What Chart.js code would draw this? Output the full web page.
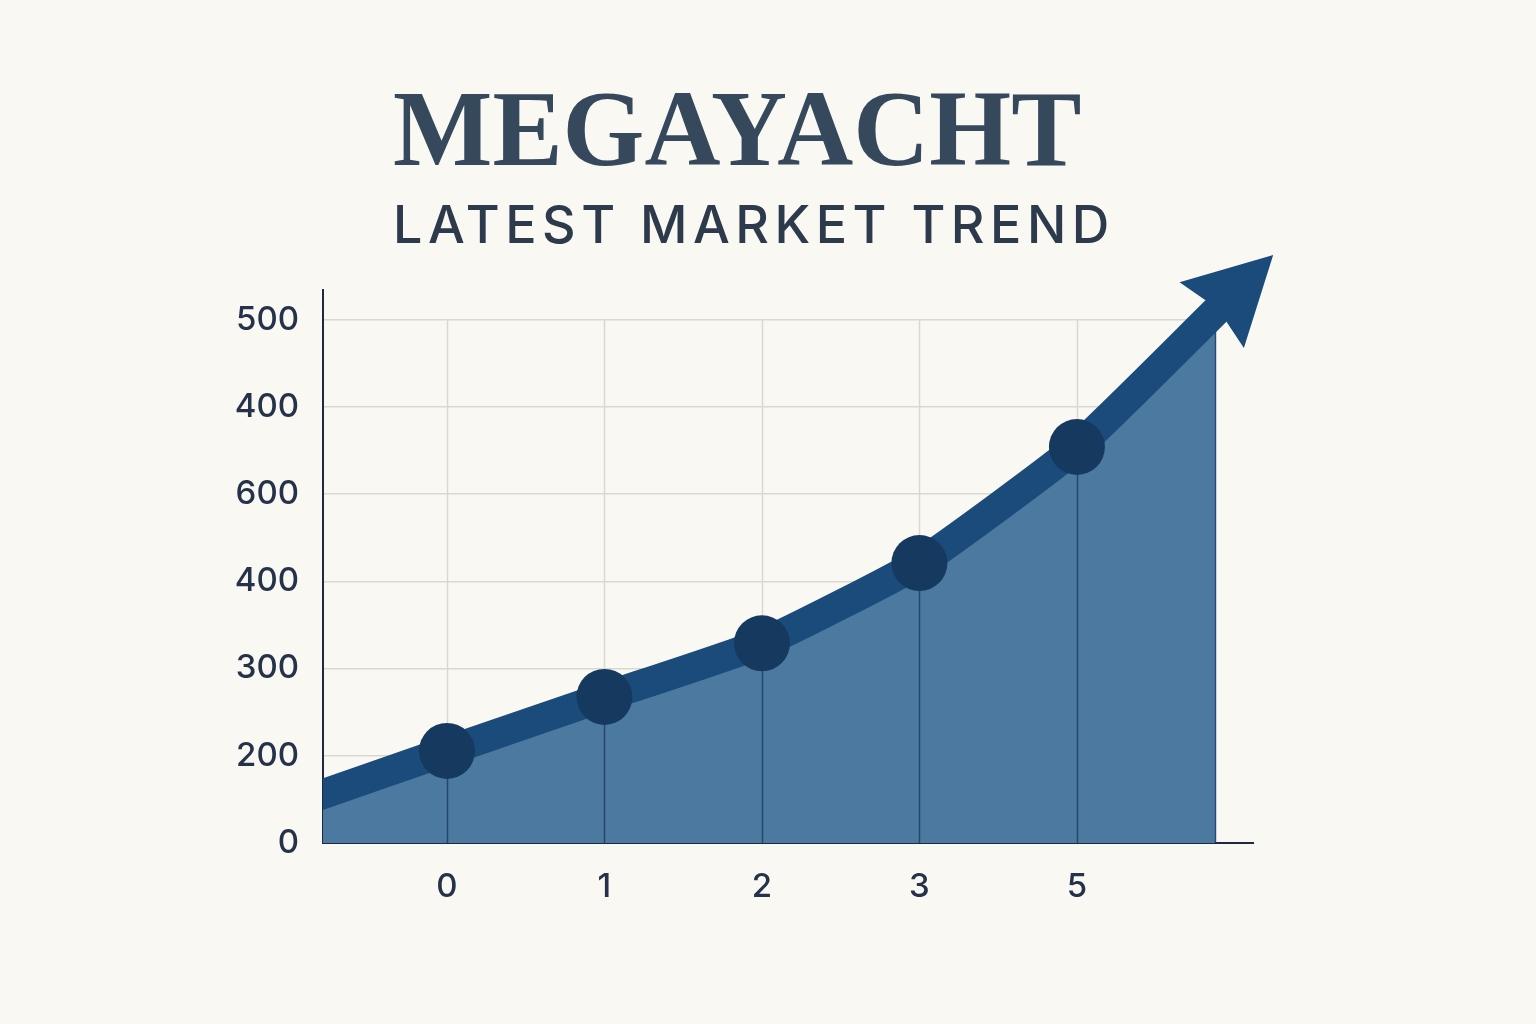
<!DOCTYPE html>
<html>
<head>
<meta charset="utf-8">
<title>Megayacht - Latest Market Trend</title>
<script src="https://cdn.jsdelivr.net/npm/chart.js@4.4.1/dist/chart.umd.min.js"></script>
<style>
  html, body { margin: 0; padding: 0; background: #faf8f3; }
  #wrap { position: relative; width: 1536px; height: 1024px; overflow: hidden; }
  #title {
    position: absolute; left: 393px; top: 75px; margin: 0;
    font-family: "Liberation Serif", serif; font-weight: bold; font-size: 108px;
    line-height: 1; color: #36485c; white-space: nowrap;
    transform: scaleX(0.975); transform-origin: left top;
  }
  #subtitle {
    position: absolute; left: 393px; top: 199px; margin: 0;
    font-family: Inter, "Liberation Sans", sans-serif; font-weight: 500; font-size: 52px;
    line-height: 1; letter-spacing: 5.5px; color: #2c3a4c; white-space: nowrap;
  }
  #chartBox { position: absolute; left: 0; top: 0; width: 1536px; height: 1024px; }
</style>
</head>
<body>
<div id="wrap">
  <div id="title">MEGAYACHT</div>
  <div id="subtitle">LATEST MARKET TREND</div>
  <div id="chartBox"><canvas id="myChart"></canvas></div>
</div>
<script>
// categorias do eixo X e rótulos do eixo Y (como aparecem na imagem)
const categories = ['0', '1', '2', '3', '5'];
const yTickLabels = ['0', '200', '300', '400', '600', '400', '500'];

// valores em "passos" da grade do eixo Y
const markerValues = [1.055, 1.675, 2.29, 3.21, 4.54];

// curva da tendência: começa antes da borda esquerda e termina na base da seta
const trendX = [-0.9, 0, 1, 2, 3, 4, 4.883];
const trendY = [0.49, 1.055, 1.675, 2.29, 3.21, 4.54, 6.1];

const lineColor = '#1b4b7b';
const areaColor = '#4c79a0';
const dotColor = '#163a5f';
const axisColor = '#1d2b40';

const trendPoints = trendX.map((x, i) => ({ x: x, y: trendY[i] }));
const markerPoints = markerValues.map((v, i) => ({ x: i, y: v }));

const trendPlugin = {
    id: 'trendExtras',
    beforeDatasetsDraw(chart) {
        const xs = chart.scales.x, ys = chart.scales.y, c = chart.ctx;
        c.save();
        c.strokeStyle = '#d9d8d3';
        c.lineWidth = 1.5;
        categories.forEach((_, i) => {
            const px = Math.round(xs.getPixelForValue(i)) + 0.5;
            c.beginPath();
            c.moveTo(px, ys.getPixelForValue(yTickLabels.length - 1));
            c.lineTo(px, ys.getPixelForValue(0));
            c.stroke();
        });
        c.restore();
    },
    afterDatasetDraw(chart, args) {
        if (args.index !== 2) return;
        const xs = chart.scales.x, ys = chart.scales.y, c = chart.ctx;
        c.save();
        c.strokeStyle = 'rgba(25,55,90,0.75)';
        c.lineWidth = 1.5;
        categories.forEach((_, i) => {
            const px = Math.round(xs.getPixelForValue(i)) + 0.5;
            c.beginPath();
            c.moveTo(px, ys.getPixelForValue(0));
            c.lineTo(px, ys.getPixelForValue(markerValues[i]));
            c.stroke();
        });
        // borda direita da área
        const rx = xs.getPixelForValue(trendX[trendX.length - 1]) - 0.5;
        c.strokeStyle = 'rgba(30,65,105,0.8)';
        c.beginPath();
        c.moveTo(rx, ys.getPixelForValue(0));
        c.lineTo(rx, ys.getPixelForValue(trendY[trendY.length - 1]));
        c.stroke();
        c.restore();
    },
    afterDatasetsDraw(chart) {
        const xs = chart.scales.x, ys = chart.scales.y, c = chart.ctx;
        const area = chart.chartArea;
        // eixo X continua um pouco depois da área
        c.save();
        c.strokeStyle = axisColor;
        c.lineWidth = 2;
        c.beginPath();
        c.moveTo(area.right - 1, area.bottom);
        c.lineTo(area.right + 38, area.bottom);
        c.stroke();
        c.restore();

        // ponta da seta no fim da curva
        const n = trendX.length;
        const ex = xs.getPixelForValue(trendX[n - 1]), ey = ys.getPixelForValue(trendY[n - 1]);
        const bx = xs.getPixelForValue(trendX[n - 2]), by = ys.getPixelForValue(trendY[n - 2]);
        let dx = ex - bx, dy = ey - by;
        const len = Math.sqrt(dx * dx + dy * dy);
        dx /= len; dy /= len;
        const nx = -dy, ny = dx;
        const headLen = 80, half = 46, back = 6;
        c.save();
        c.fillStyle = lineColor;
        c.beginPath();
        c.moveTo(ex + dx * headLen, ey + dy * headLen);
        c.lineTo(ex + nx * half - dx * back, ey + ny * half - dy * back);
        c.lineTo(ex + nx * 15, ey + ny * 15);
        c.lineTo(ex - dx * 8, ey - dy * 8);
        c.lineTo(ex - nx * 15, ey - ny * 15);
        c.lineTo(ex - nx * half - dx * back, ey - ny * half - dy * back);
        c.closePath();
        c.fill();
        c.restore();
    }
};

const ctx = document.getElementById('myChart').getContext('2d');
const myChart = new Chart(ctx, {
    type: 'line',
    data: {
        datasets: [
            {
                // marcadores
                data: markerPoints,
                showLine: false,
                pointRadius: 28,
                pointHoverRadius: 28,
                pointBackgroundColor: dotColor,
                pointBorderWidth: 0,
                clip: false
            },
            {
                // linha grossa
                data: trendPoints,
                borderColor: lineColor,
                borderWidth: 30,
                borderCapStyle: 'butt',
                tension: 0.15,
                pointRadius: 0,
                fill: false,
                clip: { left: 0, top: 40, right: 40, bottom: 0 }
            },
            {
                // área preenchida
                data: trendPoints,
                borderWidth: 0,
                borderColor: 'rgba(0,0,0,0)',
                backgroundColor: areaColor,
                tension: 0.15,
                pointRadius: 0,
                fill: 'origin',
                clip: 0
            }
        ]
    },
    options: {
        responsive: true,
        maintainAspectRatio: false,
        animation: false,
        layout: { padding: { left: 0, right: 320, top: 290, bottom: 0 } },
        plugins: {
            legend: { display: false },
            tooltip: { enabled: false }
        },
        elements: { line: { capBezierPoints: false } },
        scales: {
            x: {
                type: 'linear',
                min: -0.787,
                max: 4.883,
                afterBuildTicks: (scale) => { scale.ticks = categories.map((_, i) => ({ value: i })); },
                afterFit: (scale) => { scale.height = 181; },
                ticks: {
                    callback: (v, i) => categories[i],
                    color: '#25324a',
                    font: { family: 'Inter', size: 33, weight: 500 },
                    padding: 24,
                    maxRotation: 0,
                    autoSkip: false
                },
                grid: { display: false, drawTicks: false },
                border: { display: true, color: axisColor, width: 2 }
            },
            y: {
                min: 0,
                max: 6.34,
                afterBuildTicks: (scale) => { scale.ticks = yTickLabels.map((_, i) => ({ value: i })); },
                afterFit: (scale) => { scale.width = 323; },
                ticks: {
                    callback: (v, i) => yTickLabels[i],
                    color: '#25324a',
                    font: { family: 'Inter', size: 33, weight: 500 },
                    padding: 24,
                    autoSkip: false
                },
                grid: { color: '#d9d8d3', lineWidth: 1.5, drawTicks: false },
                border: { display: true, color: axisColor, width: 2 }
            }
        }
    },
    plugins: [trendPlugin]
});
</script>
</body>
</html>
